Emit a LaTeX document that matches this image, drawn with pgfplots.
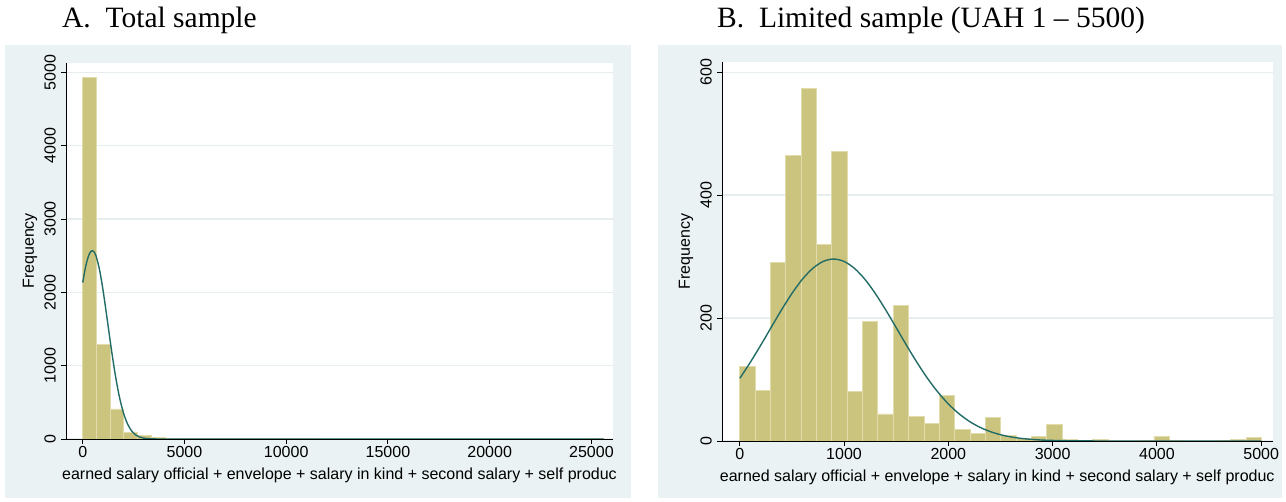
\documentclass[border=0pt]{standalone}
\usepackage{fontspec}
\setmainfont{Liberation Serif}
\newfontfamily\arial{Liberation Sans}
\usepackage{pgfplots}
\pgfplotsset{compat=1.18}
\definecolor{bgbox}{RGB}{234,242,243}
\definecolor{barfill}{RGB}{203,196,127}
\definecolor{baredge}{RGB}{226,220,172}
\definecolor{curvec}{RGB}{35,108,102}
\definecolor{gridc}{RGB}{230,238,240}
\pgfplotsset{stata/.style={
  scale only axis,
  axis lines*=left,
  axis line style={black, line width=0.9pt},
  tick align=outside,
  major tick length=5pt,
  tick style={black, line width=0.9pt},
  ymajorgrids,
  grid style={gridc, line width=1.2pt},
  axis background/.style={fill=white},
  font=\arial\fontsize{16}{19}\selectfont,
  /pgf/number format/assume math mode=true,
  /pgf/number format/set thousands separator={},
  scaled ticks=false,
  yticklabel style={rotate=90, anchor=south, inner sep=2pt, yshift=3pt},
  xticklabel style={inner sep=2pt},
  ylabel={Frequency},
  xlabel={earned salary official + envelope + salary in kind + second salary + self produc},
  every axis y label/.style={at={(axis description cs:0,0.5)}, xshift=-36pt, rotate=90, anchor=center},
  every axis x label/.style={at={(axis description cs:0.5,0)}, yshift=-36pt, anchor=center},
  bars/.style={ybar interval, fill=barfill, draw=baredge, line width=0.8pt},
  nc/.style={curvec, line width=1.4pt, no markers, smooth},
}}
\begin{document}
\begin{tikzpicture}
\useasboundingbox (0pt,0pt) rectangle (1286pt,502pt);
\fill[white] (0pt,0pt) rectangle (1286pt,502pt);
\fill[bgbox] (5pt,4pt) rectangle (631pt,457pt);
\fill[bgbox] (658pt,4pt) rectangle (1282pt,457pt);
\node[anchor=base west, inner sep=0pt, font=\fontsize{29.5}{34}\selectfont] at (62pt,474pt) {A.\ \ Total sample};
\node[anchor=base west, inner sep=0pt, font=\fontsize{29.5}{34}\selectfont] at (717pt,474pt) {B.\ \ Limited sample (UAH 1 -- 5500)};

\begin{axis}[stata, name=A,
  at={(66pt,63pt)}, anchor=south west,
  width=547pt, height=376.3pt,
  xmin=-821, xmax=26060, ymin=0, ymax=5131,
  xtick={0,5000,10000,15000,20000,25000},
  ytick={0,1000,2000,3000,4000,5000},
]
\addplot[bars] coordinates {
(1,4932) (674.7,1295) (1348.4,409) (2022.1,91) (2695.8,46) (3369.5,18)
(4043.2,10) (4716.9,8) (5390.6,4) (6064.3,3) (6738,2) (7411.7,8)
(8085.4,3) (8759.1,2) (9432.8,2) (10106.5,6) (10780.2,2) (11453.9,1)
(12127.6,1) (12801.3,1) (13475,1) (14148.7,1) (14822.4,0) (15496.1,1)
(16169.8,0) (16843.5,0) (17517.2,1) (18190.9,0) (18864.6,0) (19538.3,0)
(20212,0) (20885.7,0) (21559.4,0) (22233.1,0) (22906.8,0) (23580.5,0)
(24254.2,1) (24927.9,3) (25601.6,3)
};
\addplot[nc] coordinates {
(1,2133) (100,2288) (200,2415) (300,2506) (400,2557) (470,2568) (550,2555)
(650,2500) (750,2400) (850,2275) (1000,2027) (1200,1640) (1400,1240)
(1600,876) (1800,579) (2000,358) (2200,207) (2400,112) (2600,56)
(2800,27) (3000,12) (3300,3) (3600,0.7) (4000,0) (8000,0) (25601,0)
};
\end{axis}

\begin{axis}[stata, name=B,
  at={(722pt,61pt)}, anchor=south west,
  width=550.5pt, height=379.3pt,
  xmin=-170, xmax=5108, ymin=0, ymax=617,
  xtick={0,1000,2000,3000,4000,5000},
  ytick={0,200,400,600},
]
\addplot[bars] coordinates {
(1,121) (148.06,82) (295.12,291) (442.18,464) (589.24,573) (736.3,319)
(883.36,471) (1030.42,81) (1177.48,195) (1324.54,44) (1471.6,221)
(1618.66,40) (1765.72,28) (1912.78,74) (2059.84,19) (2206.9,13)
(2353.96,39) (2501.02,9) (2648.08,4) (2795.14,8) (2942.2,27)
(3089.26,3) (3236.32,1) (3383.38,3) (3530.44,0) (3677.5,0) (3824.56,1)
(3971.62,8) (4118.68,1) (4265.74,0) (4412.8,0) (4559.86,1) (4706.92,3)
(4853.98,6) (5001.04,6)
};
\addplot[nc] coordinates {
(1,102) (100,127.6) (200,155.4) (300,184.4) (400,213.1) (500,239.9)
(600,263.0) (700,280.8) (800,292.1) (900,296) (1000,292.1) (1100,280.8)
(1200,263.0) (1300,239.9) (1400,213.1) (1500,184.4) (1600,155.4)
(1700,127.6) (1800,102.0) (1900,79.5) (2000,60.3) (2100,44.6)
(2200,32.1) (2300,22.5) (2400,15.4) (2500,10.2) (2600,6.6) (2700,4.2)
(2800,2.6) (2900,1.5) (3000,0.9) (3200,0.3) (3500,0) (4000,0) (5001,0)
};
\end{axis}
\end{tikzpicture}
\end{document}
